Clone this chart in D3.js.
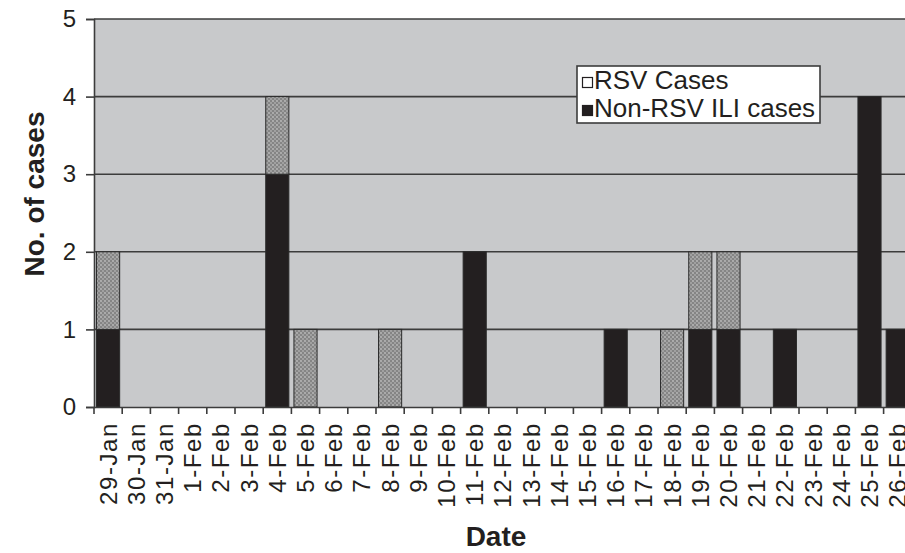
<!DOCTYPE html>
<html>
<head>
<meta charset="utf-8">
<script src="https://cdn.jsdelivr.net/npm/d3@7"></script>
<style>
  body { margin: 0; background: #fff; }
  text { font-family: "Liberation Sans", Arial, sans-serif; fill: #231f20; }
</style>
</head>
<body>
<div id="chart"></div>
<script>
// Dates on the x axis
const dates = ["29-Jan", "30-Jan", "31-Jan", "1-Feb", "2-Feb", "3-Feb", "4-Feb", "5-Feb",
  "6-Feb", "7-Feb", "8-Feb", "9-Feb", "10-Feb", "11-Feb", "12-Feb", "13-Feb", "14-Feb",
  "15-Feb", "16-Feb", "17-Feb", "18-Feb", "19-Feb", "20-Feb", "21-Feb", "22-Feb",
  "23-Feb", "24-Feb", "25-Feb", "26-Feb"];
// Non-RSV ILI cases (bottom, black)
const nonRsv = [1, 0, 0, 0, 0, 0, 3, 0, 0, 0, 0, 0, 0, 2, 0, 0, 0, 0, 1, 0, 0, 1, 1, 0, 1, 0, 0, 4, 1];
// RSV cases (top, dotted)
const rsv = [1, 0, 0, 0, 0, 0, 1, 1, 0, 0, 1, 0, 0, 0, 0, 0, 0, 0, 0, 0, 1, 1, 1, 0, 0, 0, 0, 0, 0];
const yTicks = [0, 1, 2, 3, 4, 5];

const width = 905, height = 553;
const margin = { top: 19, left: 94, bottom: 146 };
const step = 28.2;

const svg = d3.select("#chart").append("svg")
  .attr("width", width)
  .attr("height", height);

// dotted fill used for the RSV bars
const defs = svg.append("defs");
const pat = defs.append("pattern")
  .attr("id", "dots")
  .attr("patternUnits", "userSpaceOnUse")
  .attr("width", 4).attr("height", 4);
pat.append("rect").attr("width", 4).attr("height", 4).attr("fill", "#858585");
pat.append("circle").attr("cx", 1).attr("cy", 1).attr("r", 0.9).attr("fill", "#bdbdbd");
pat.append("circle").attr("cx", 3).attr("cy", 3).attr("r", 0.9).attr("fill", "#adadad");

const x = d3.scaleBand()
  .domain(dates)
  .range([margin.left, margin.left + step * dates.length])
  .padding(0);

const y = d3.scaleLinear()
  .domain([0, 5])
  .range([height - margin.bottom, margin.top]);

// plot background
svg.append("rect")
  .attr("x", x.range()[0])
  .attr("y", y(5))
  .attr("width", x.range()[1] - x.range()[0])
  .attr("height", y(0) - y(5))
  .attr("fill", "#c8c9cb");

// horizontal gridlines
svg.append("g")
  .selectAll("line")
  .data(yTicks.filter(d => d > 0))
  .join("line")
  .attr("x1", x.range()[0])
  .attr("x2", x.range()[1])
  .attr("y1", d => y(d))
  .attr("y2", d => y(d))
  .attr("stroke", "#3c3c3c")
  .attr("stroke-width", 1.6);

// stacked bars
const rows = dates.map((d, i) => ({ date: d, nonRsv: nonRsv[i], rsv: rsv[i] }));
const stack = d3.stack().keys(["nonRsv", "rsv"])(rows);
const fills = { nonRsv: "#231f20", rsv: "url(#dots)" };

const inset = x.bandwidth() * 0.09;
svg.append("g")
  .selectAll("g")
  .data(stack)
  .join("g")
  .attr("fill", s => fills[s.key])
  .selectAll("rect")
  .data(s => s.filter(p => p[1] > p[0]))
  .join("rect")
  .attr("x", p => x(p.data.date) + inset)
  .attr("width", x.bandwidth() - 2 * inset)
  .attr("y", p => y(p[1]))
  .attr("height", p => y(p[0]) - y(p[1]))
  .attr("stroke", "#2a2a2a")
  .attr("stroke-width", 1);

// y axis
const yAxis = svg.append("g")
  .attr("transform", `translate(${margin.left},0)`)
  .call(d3.axisLeft(y).tickValues(yTicks).tickSize(8).tickPadding(10).tickFormat(d3.format("d")));
yAxis.select(".domain").attr("stroke", "#3c3c3c").attr("stroke-width", 1.6);
yAxis.selectAll(".tick line").attr("stroke", "#3c3c3c").attr("stroke-width", 1.6);
yAxis.selectAll(".tick text")
  .style("font-size", "24px")
  .attr("fill", "#231f20");

// x axis: ticks at band edges, labels centred in bands
const xAxis = svg.append("g")
  .attr("transform", `translate(0,${y(0)})`)
  .call(d3.axisBottom(x).tickSize(0).tickPadding(0));
xAxis.select(".domain").attr("stroke", "#3c3c3c").attr("stroke-width", 1.6);
xAxis.selectAll(".tick text")
  .attr("transform", "rotate(-90)")
  .attr("x", -15)
  .attr("y", 0)
  .attr("dy", "0.35em")
  .style("text-anchor", "end")
  .style("font-size", "24px")
  .style("letter-spacing", "1.6px")
  .attr("fill", "#231f20");
xAxis.append("g")
  .selectAll("line")
  .data(dates)
  .join("line")
  .attr("x1", d => x(d))
  .attr("x2", d => x(d))
  .attr("y1", 0)
  .attr("y2", 7)
  .attr("stroke", "#3c3c3c")
  .attr("stroke-width", 1.6);

// axis titles
svg.append("text")
  .attr("x", 496)
  .attr("y", 546)
  .attr("text-anchor", "middle")
  .style("font-size", "28px")
  .style("font-weight", "bold")
  .text("Date");

svg.append("text")
  .attr("transform", "translate(44,194) rotate(-90)")
  .attr("text-anchor", "middle")
  .style("font-size", "28px")
  .style("font-weight", "bold")
  .text("No. of cases");

// legend
const legend = svg.append("g").attr("transform", "translate(577,66)");
legend.append("rect")
  .attr("width", 243)
  .attr("height", 57)
  .attr("fill", "#fff")
  .attr("stroke", "#3c3c3c")
  .attr("stroke-width", 1.6);
const legendItems = [
  { label: "RSV Cases", fill: "#fff" },
  { label: "Non-RSV ILI cases", fill: "#231f20" }
];
legendItems.forEach((d, i) => {
  legend.append("rect")
    .attr("x", 5.5)
    .attr("y", 11.5 + i * 28)
    .attr("width", 10)
    .attr("height", 10)
    .attr("fill", d.fill)
    .attr("stroke", "#231f20")
    .attr("stroke-width", 1.2);
  legend.append("text")
    .attr("x", 17)
    .attr("y", 23 + i * 28)
    .style("font-size", "26px")
    .text(d.label);
});
</script>
</body>
</html>
